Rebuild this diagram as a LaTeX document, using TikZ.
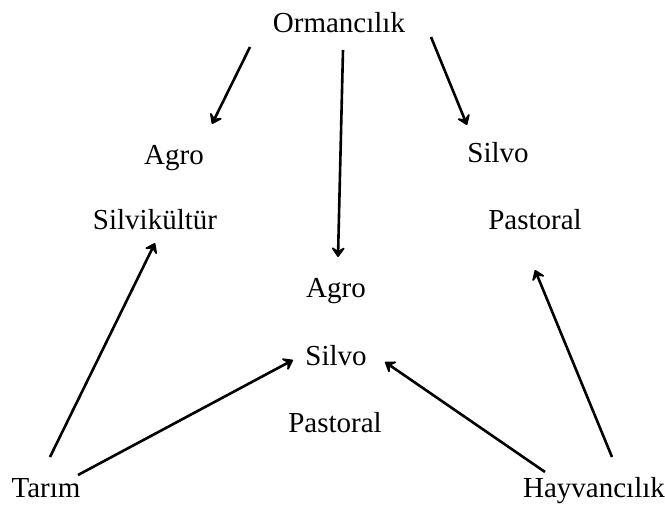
\documentclass[tikz,border=0pt]{standalone}
\usepackage{fontspec}
\setmainfont{Liberation Serif}
\usetikzlibrary{arrows.meta,calc}
\begin{document}
\begin{tikzpicture}[x=0.5pt,y=-0.5pt,
  lbl/.style={anchor=base,inner sep=0pt,font=\fontsize{14.5}{17}\selectfont},
  arr/.style={line width=1.3pt,-{Stealth[length=6pt,width=8.5pt,inset=2.6pt,round]}}]
\useasboundingbox (0,0) rectangle (665,508);
\node[lbl] (orm) at (339,33) {Ormancılık};
\node[lbl] (agroL) at (174,165) {Agro};
\node[lbl] (silvik) at (155,230) {Silvikültür};
\node[lbl] (silvoR) at (498,163) {Silvo};
\node[lbl] (pastR) at (535,230) {Pastoral};
\node[lbl] (agroM) at (336,298) {Agro};
\node[lbl] (silvoM) at (336,365) {Silvo};
\node[lbl] (pastM) at (335,432) {Pastoral};
\node[lbl] (tarim) at (46,497) {Tarım};
\node[lbl] (hay) at (594,497) {Hayvancılık};
\draw[arr] ($(orm.base)+(-89,14)$) -- ($(agroL.base)+(38,-41)$);
\draw[arr] ($(orm.base)+(4,17)$) -- ($(agroM.base)+(2,-41)$);
\draw[arr] ($(orm.base)+(92,4)$) -- ($(silvoR.base)+(-31,-38)$);
\draw[arr] ($(tarim.base)+(4,-40)$) -- ($(silvik.base)+(0,13)$);
\draw[arr] ($(tarim.base)+(32,-22)$) -- ($(silvoM.base)+(-43,-5)$);
\draw[arr] ($(hay.base)+(-49,-25)$) -- ($(silvoM.base)+(49,-3)$);
\draw[arr] ($(hay.base)+(18,-40)$) -- ($(pastR.base)+(0,40)$);
\end{tikzpicture}
\end{document}
